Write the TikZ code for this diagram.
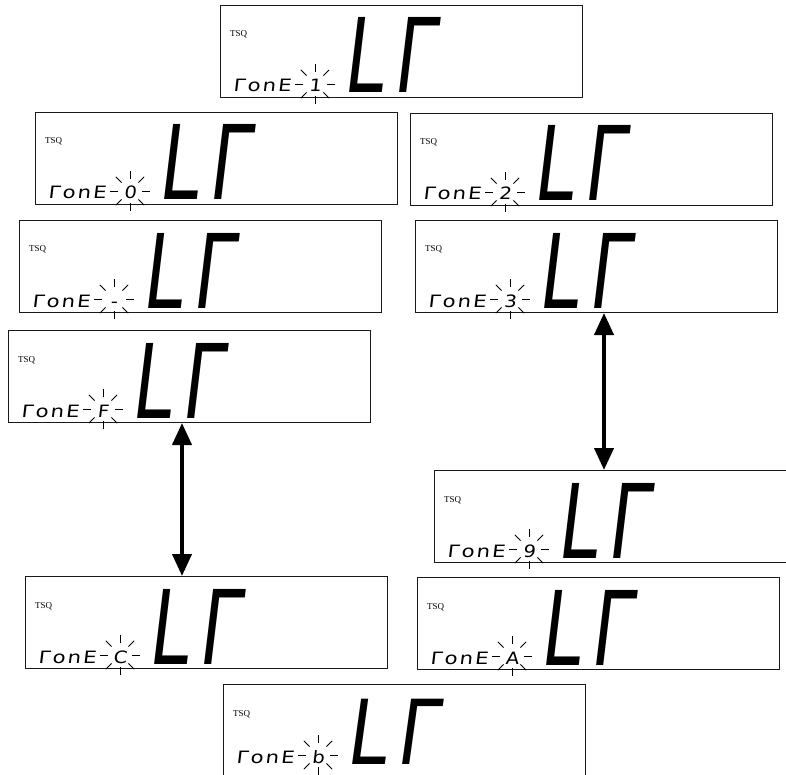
\documentclass[tikz,border=0pt]{standalone}
\usepackage{fontspec}
\usepackage{graphicx}
\usepackage{tikz}
\usetikzlibrary{arrows.meta, positioning, calc}
\newfontfamily\tsqfont{Liberation Serif}
\newfontfamily\segkecil[FakeSlant=0.12, FakeStretch=1.25, LetterSpace=12]{DejaVu Sans}
\newfontfamily\segangka[FakeSlant=0.12, FakeStretch=1.15]{DejaVu Sans}
\newfontfamily\segbesar[FakeSlant=0.12, FakeStretch=0.7, LetterSpace=10]{DejaVu Sans}

\begin{document}
\begin{tikzpicture}[
    x=1pt, y=-1pt,
    layar/.style={draw=black!90, line width=1pt, minimum width=362pt, minimum height=92pt,
                  anchor=north west, inner sep=0pt},
    tsq/.style={anchor=base west, inner sep=0pt, font=\tsqfont\fontsize{9}{9}\selectfont},
    nada/.style={anchor=base west, inner sep=0pt, font=\segkecil\fontsize{17}{17}\selectfont},
    angka/.style={anchor=base, inner sep=0pt, font=\segangka\fontsize{17}{17}\selectfont},
    besar/.style={anchor=base west, inner sep=0pt, font=\segbesar\fontsize{103}{103}\selectfont},
    sinar/.style={line width=0.8pt},
    panah/.style={{Triangle[length=22pt,width=19pt]}-{Triangle[length=22pt,width=19pt]}, line width=4pt}
  ]
    \useasboundingbox (0,0) rectangle (786,775);
    % nama/kiri/atas/angka/geser/skala tinggi
    \foreach \nama/\x/\y/\angka/\g/\sy in {z1/220/5/1/0/1, z0/35/112/0/0/1, z2/410/113/2/0/1,
        zs/19/220/-/0/1, z3/415/220/3/0/1, zF/8/330/F/0/1, z9/434/470/9/0/1,
        zA/417/577/A/0/1, zC/25/576/C/0/1, zb/223/684/b/8/0.87}{
      \node[layar] (\nama) at (\x,\y) {};
      \coordinate (\nama-o) at ($(\nama.north west)+(0,-\g)$);
      \node[tsq] (\nama-tsq) at ($(\nama.north west)+(10,32)$) {TSQ};
      \node[nada] (\nama-nada) at ($(\nama-o)+(13,87)$) {ΓonE};
      \node[angka] (\nama-angka) at ($(\nama-o)+(95,87)$) {\angka};
      \node[besar] (\nama-lt) at ($(\nama-o)+(122,88)$) {\scalebox{1}[\sy]{LΓ}};
      % kedipan di sekitar angka
      \coordinate (\nama-c) at ($(\nama-o)+(95,79)$);
      \foreach \a in {0,45,...,315}
        \draw[sinar] ($(\nama-c)+(\a:12)$) -- ($(\nama-c)+(\a:20)$);
    }
    \draw[panah] ([xshift=174pt]zF.south west) -- ([xshift=157pt]zC.north west);
    \draw[panah] ([xshift=189pt]z3.south west) -- ([xshift=170pt]z9.north west);
\end{tikzpicture}
\end{document}
